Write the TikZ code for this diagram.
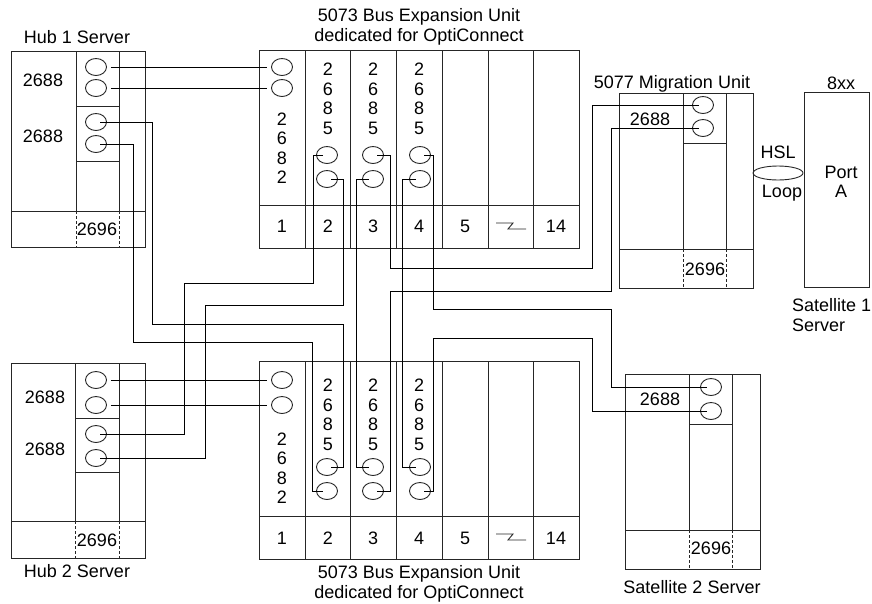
\documentclass[tikz,border=0pt]{standalone}
\usepackage{fontspec}
\setmainfont{Liberation Sans}
\usetikzlibrary{shapes.geometric}

\begin{document}
\begin{tikzpicture}[x=1pt,y=-1pt,
    every node/.style={font=\fontsize{18}{19.5}\selectfont, inner sep=0pt},
    frame/.style={draw=black!85, line width=0.9pt},
    slotline/.style={draw=black!85, line width=0.9pt, dash pattern=on 3pt off 2pt},
    jack/.style={ellipse, draw=black!85, line width=0.9pt, minimum width=21pt, minimum height=17pt},
    wire/.style={draw, line width=0.9pt, shorten <=4pt, shorten >=4pt}]
   \useasboundingbox (0,0) rectangle (872,603);

   % Hub 1 Server
   \draw[frame] (11,51) rectangle (145,247);
   \draw[frame] (11,211) -- (145,211);
   \draw[frame] (76,51) -- (76,211) (119,51) -- (119,211);
   \draw[frame] (76,106) -- (119,106) (76,161) -- (119,161);
   \draw[slotline] (76,211) -- (76,247) (119,211) -- (119,247);
   \node (hubonelbl) at (77,37) {Hub 1 Server};
   \node (hubonea) at (43,80) {2688};
   \node (huboneb) at (43,136) {2688};
   \node (hubonec) at (97,229) {2696};
   \node[jack] (h1a) at (96,67) {};
   \node[jack] (h1b) at (96,88) {};
   \node[jack] (h1c) at (96,122) {};
   \node[jack] (h1d) at (96,144) {};

   % Hub 2 Server
   \draw[frame] (11,363) rectangle (145,558);
   \draw[frame] (11,521) -- (145,521);
   \draw[frame] (75,363) -- (75,521) (119,363) -- (119,521);
   \draw[frame] (75,418) -- (119,418) (75,472) -- (119,472);
   \draw[slotline] (75,521) -- (75,558) (119,521) -- (119,558);
   \node (hubtwolbl) at (77,571) {Hub 2 Server};
   \node (hubtwoa) at (45,397) {2688};
   \node (hubtwob) at (45,449) {2688};
   \node (hubtwoc) at (97,540) {2696};
   \node[jack] (h2a) at (96,380) {};
   \node[jack] (h2b) at (96,405) {};
   \node[jack] (h2c) at (96,434) {};
   \node[jack] (h2d) at (96,458) {};

   % 5073 units, top and bottom
   \draw[frame] (259,50) rectangle (579,248) (259,205) -- (579,205);
   \draw[frame] (259,361) rectangle (579,559) (259,516) -- (579,516);
   \foreach \x in {305,350,396,442,488,533} {
     \draw[frame] (\x,50) -- (\x,248) (\x,361) -- (\x,559);
   }
   \foreach \x/\t in {282/1,328/2,373/3,419/4,465/5,556/14} {
     \node (topnum\t) at (\x,226) {\t};
     \node (botnum\t) at (\x,538) {\t};
   }
   \draw[frame] (496,223) -- (513,223) -- (508,229) -- (526,229);
   \draw[frame] (496,534) -- (513,534) -- (508,540) -- (526,540);
   \node[align=center] (toptitle) at (419,27) {5073 Bus Expansion Unit\\dedicated for OptiConnect};
   \node[align=center] (bottitle) at (419,584) {5073 Bus Expansion Unit\\dedicated for OptiConnect};
   \node[align=center] (topcard) at (282,148) {2\\6\\8\\2};
   \node[align=center] (botcard) at (282,468) {2\\6\\8\\2};
   \foreach \x/\n in {328/2,373/3,419/4} {
     \node[align=center] (topocf\n) at (\x,99) {2\\6\\8\\5};
     \node[align=center] (botocf\n) at (\x,415) {2\\6\\8\\5};
   }
   \node[jack] (t1a) at (282,67) {};
   \node[jack] (t1b) at (282,88) {};
   \node[jack] (b1a) at (282,380) {};
   \node[jack] (b1b) at (282,405) {};
   \foreach \x/\n in {327/2,373/3,420/4} {
     \node[jack] (t\n a) at (\x,155) {};
     \node[jack] (t\n b) at (\x,179) {};
     \node[jack] (b\n a) at (\x,467) {};
     \node[jack] (b\n b) at (\x,491) {};
   }

   % 5077 Migration Unit
   \draw[frame] (619,93) rectangle (753,288) (619,249) -- (753,249);
   \draw[frame] (683,93) -- (683,249) (726,93) -- (726,249) (683,143) -- (726,143);
   \draw[slotline] (683,249) -- (683,288) (726,249) -- (726,288);
   \node (miglbl) at (672,84) {5077 Migration Unit};
   \node (migcard) at (650,119) {2688};
   \node (migiop) at (705,269) {2696};
   \node[jack] (m1) at (703,105) {};
   \node[jack] (m2) at (703,128) {};

   % Satellite 1 Server
   \draw[frame] (804,92) rectangle (869,287);
   \node (satonetop) at (841,83) {8xx};
   \node[align=center] (port) at (841,182) {Port\\A};
   \node[align=left, anchor=west] (satonelbl) at (792,315) {Satellite 1\\Server};
   \node[ellipse, draw=black!85, line width=0.9pt, minimum width=50pt, minimum height=14pt] (hsl) at (778,173) {};
   \node (hsltxt) at (778,152) {HSL};
   \node (looptxt) at (782,193) {Loop};

   % Satellite 2 Server
   \draw[frame] (625,374) rectangle (760,569) (625,530) -- (760,530);
   \draw[frame] (689,374) -- (689,530) (732,374) -- (732,530) (689,424) -- (732,424);
   \draw[slotline] (689,530) -- (689,569) (732,530) -- (732,569);
   \node (sattwolbl) at (692,587) {Satellite 2 Server};
   \node (sattwocard) at (660,399) {2688};
   \node (sattwoiop) at (711,548) {2696};
   \node[jack] (s1) at (711,387) {};
   \node[jack] (s2) at (711,411) {};

   % cables
   \draw[wire] (h1a) -- (t1a);
   \draw[wire] (h1b) -- (t1b);
   \draw[wire] (h2a) -- (b1a);
   \draw[wire] (h2b) -- (b1b);
   \draw[wire] (h1c.center) -- (152,122) -- (152,324) -- (343,324) -- (343,467) -- (b2a.center);
   \draw[wire] (h1d.center) -- (133,144) -- (133,342) -- (312,342) -- (312,491) -- (b2b.center);
   \draw[wire] (t2a.center) -- (313,155) -- (313,283) -- (184,283) -- (184,434) -- (h2c.center);
   \draw[wire] (t2b.center) -- (343,179) -- (343,305) -- (205,305) -- (205,458) -- (h2d.center);
   \draw[wire] (t3b.center) -- (356,179) -- (356,467) -- (b3a.center);
   \draw[wire] (t4b.center) -- (402,179) -- (402,467) -- (b4a.center);
   \draw[wire] (t3a.center) -- (390,155) -- (390,268) -- (592,268) -- (592,105) -- (m1.center);
   \draw[wire] (m2.center) -- (611,128) -- (611,291) -- (390,291) -- (390,491) -- (b3b.center);
   \draw[wire] (t4a.center) -- (433,155) -- (433,309) -- (611,309) -- (611,387) -- (s1.center);
   \draw[wire] (s2.center) -- (592,411) -- (592,338) -- (433,338) -- (433,491) -- (b4b.center);
  \end{tikzpicture}
\end{document}
